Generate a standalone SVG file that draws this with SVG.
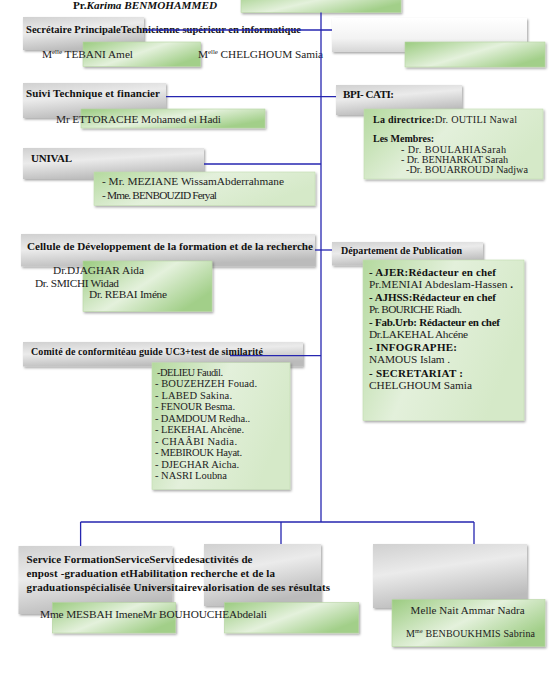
<svg xmlns="http://www.w3.org/2000/svg" width="554" height="674" viewBox="0 0 554 674">
<defs>
<linearGradient id="gGray" x1="0" y1="0" x2="0.35" y2="1">
<stop offset="0" stop-color="#d0d0d0"/><stop offset="0.45" stop-color="#ebebeb"/><stop offset="1" stop-color="#bbbbbb"/>
</linearGradient>
<linearGradient id="gWhite" x1="0" y1="0" x2="0" y2="1">
<stop offset="0" stop-color="#ffffff"/><stop offset="0.6" stop-color="#f3f3f3"/><stop offset="1" stop-color="#d6d6d6"/>
</linearGradient>
<linearGradient id="gGreen" x1="0" y1="0" x2="1" y2="0.6">
<stop offset="0" stop-color="#9bcb80"/><stop offset="0.55" stop-color="#e4f1dc"/><stop offset="1" stop-color="#a2cf89"/>
</linearGradient>
<linearGradient id="gLight" x1="0" y1="0" x2="1" y2="0.4">
<stop offset="0" stop-color="#b4d99e"/><stop offset="0.5" stop-color="#e3f0db"/><stop offset="1" stop-color="#d5e9c8"/>
</linearGradient>
<filter id="sh" x="-10%" y="-10%" width="125%" height="140%">
<feDropShadow dx="1.2" dy="1.5" stdDeviation="0.9" flood-color="#000" flood-opacity="0.35"/>
</filter>
</defs>
<style>
.gray{fill:url(#gGray);filter:url(#sh)}
.white{fill:url(#gWhite);filter:url(#sh)}
.green{fill:url(#gGreen);stroke:#b7d6a3;stroke-width:0.6;filter:url(#sh)}
.light{fill:url(#gLight);stroke:#c2dcb1;stroke-width:0.6;filter:url(#sh)}
text{font-family:"Liberation Serif","Times New Roman",serif;font-size:11.3px;fill:#222}
.b{font-weight:bold;font-size:11px;fill:#111}
.t{font-size:10px}
.s{font-size:10.5px}
.m{font-size:10.2px}
.sup{font-size:7px}
.con{stroke:#2626b0;stroke-width:1.3;fill:none}
</style>
<rect width="554" height="674" fill="#ffffff"/>

<g id="director">
<rect class="green" x="241" y="-10" width="160" height="22.5"/>
<text class="b" style="font-size:10.5px" x="73" y="9" textLength="144" lengthAdjust="spacingAndGlyphs">Pr.<tspan font-style="italic">Karima BENMOHAMMED</tspan></text>
</g>

<g id="secretaire">
<rect class="gray" x="23" y="17" width="121" height="33"/>
<rect class="green" x="83" y="42" width="117.5" height="24.5"/>
<text class="b" x="26" y="32.5" textLength="275" lengthAdjust="spacingAndGlyphs">Secrétaire PrincipaleTechnicienne supérieur en informatique</text>
<text x="42" y="58" textLength="91" lengthAdjust="spacing">M<tspan class="sup" dy="-4">elle</tspan><tspan dy="4"> TEBANI Amel</tspan></text>
<text x="198" y="58" textLength="125" lengthAdjust="spacing">M<tspan class="sup" dy="-4">elle</tspan><tspan dy="4"> CHELGHOUM Samia</tspan></text>
</g>

<g id="top-right">
<rect class="white" x="332" y="18" width="195" height="34"/>
<rect class="green" x="405" y="42" width="140" height="25"/>
</g>

<g id="suivi">
<rect class="gray" x="23" y="83" width="143" height="35"/>
<rect class="green" x="81" y="109" width="184" height="19"/>
<text class="b" x="26" y="97" textLength="134" lengthAdjust="spacing">Suivi Technique et financier</text>
<text x="56" y="122.7" textLength="165" lengthAdjust="spacing">Mr ETTORACHE Mohamed el Hadi</text>
</g>

<g id="bpi-cati">
<rect class="gray" x="336" y="85" width="126" height="30"/>
<rect class="light" x="364" y="109" width="179" height="70"/>
<text class="b" x="343" y="97.7" textLength="51" lengthAdjust="spacing">BPI- CATI:</text>
<text class="m" x="373" y="123" textLength="144" lengthAdjust="spacing"><tspan class="b" style="font-size:10px">La directrice:</tspan>Dr. OUTILI Nawal</text>
<text class="b" style="font-size:10px" x="373" y="142">Les Membres:</text>
<text class="m" x="401" y="153.3" textLength="105" lengthAdjust="spacing">- Dr. BOULAHIASarah</text>
<text class="m" x="401" y="163.3" textLength="107" lengthAdjust="spacing">- Dr. BENHARKAT Sarah</text>
<text class="m" x="406" y="173.3" textLength="122" lengthAdjust="spacing">-Dr. BOUARROUDJ Nadjwa</text>
</g>

<g id="unival">
<rect class="gray" x="23" y="148" width="181" height="31"/>
<rect class="light" x="94" y="172" width="221" height="33.5"/>
<text class="b" x="31" y="161.7" textLength="41" lengthAdjust="spacing">UNIVAL</text>
<text x="102" y="185" textLength="182" lengthAdjust="spacing">- Mr. MEZIANE WissamAbderrahmane</text>
<text x="102" y="199.3" textLength="115" lengthAdjust="spacing">- Mme. BENBOUZID Feryal</text>
</g>

<g id="cellule">
<rect class="gray" x="21" y="234" width="294" height="32.5"/>
<rect class="green" x="83" y="261" width="129" height="50.5"/>
<text class="b" x="27" y="250" textLength="286" lengthAdjust="spacingAndGlyphs">Cellule de Développement de la formation et de la recherche</text>
<text x="53" y="274.3" textLength="91" lengthAdjust="spacing">Dr.DJAGHAR Aida</text>
<text x="35" y="286.7" textLength="84" lengthAdjust="spacing">Dr. SMICHI Widad</text>
<text x="89" y="298.3" textLength="78" lengthAdjust="spacing">Dr. REBAI Iméne</text>
</g>

<g id="publication">
<rect class="gray" x="332" y="242" width="151" height="23.5"/>
<rect class="light" x="363" y="260" width="161" height="160.5"/>
<text class="b t" x="341" y="254" textLength="121" lengthAdjust="spacing">Département de Publication</text>
<text class="b" x="369" y="275.7" textLength="127" lengthAdjust="spacing">- AJER:Rédacteur en chef</text>
<text x="369" y="288.3" textLength="144" lengthAdjust="spacing">Pr.MENIAI Abdeslam-Hassen <tspan class="b">.</tspan></text>
<text class="b" x="369" y="300.7" textLength="127" lengthAdjust="spacing">- AJHSS:Rédacteur en chef</text>
<text x="369" y="313.3" textLength="93" lengthAdjust="spacing">Pr. BOURICHE  Riadh.</text>
<text class="b" x="369" y="325.7" textLength="131" lengthAdjust="spacing">- Fab.Urb: Rédacteur en chef</text>
<text x="369" y="338.3" textLength="99" lengthAdjust="spacing">Dr.LAKEHAL Ahcéne</text>
<text class="b" x="369" y="351" textLength="88" lengthAdjust="spacing">- INFOGRAPHE:</text>
<text x="369" y="363.3" textLength="81" lengthAdjust="spacing">NAMOUS Islam .</text>
<text class="b" x="369" y="376.7" textLength="94" lengthAdjust="spacing">- SECRETARIAT :</text>
<text x="369" y="389.3" textLength="103" lengthAdjust="spacing">CHELGHOUM Samia</text>
</g>

<g id="comite">
<rect class="gray" x="23" y="342" width="280" height="24.5"/>
<rect class="light" x="152" y="362.7" width="138" height="126.6"/>
<text class="b t" x="31" y="355" textLength="232" lengthAdjust="spacing">Comité de conformitéau guide UC3+test de similarité</text>
<text class="s" x="157" y="375.7" textLength="66" lengthAdjust="spacing">-DELIEU Faudil.</text>
<text class="s" x="155" y="387.2" textLength="102" lengthAdjust="spacing">- BOUZEHZEH Fouad.</text>
<text class="s" x="155" y="398.7" textLength="77" lengthAdjust="spacing">- LABED Sakina.</text>
<text class="s" x="155" y="410.2" textLength="80" lengthAdjust="spacing">- FENOUR Besma.</text>
<text class="s" x="155" y="421.7" textLength="95" lengthAdjust="spacing">- DAMDOUM Redha..</text>
<text class="s" x="155" y="433.2" textLength="89" lengthAdjust="spacing">- LEKEHAL Ahcène.</text>
<text class="s" x="155" y="444.7" textLength="82" lengthAdjust="spacing">- CHAÂBI Nadia.</text>
<text class="s" x="155" y="456.2" textLength="87" lengthAdjust="spacing">- MEBIROUK Hayat.</text>
<text class="s" x="155" y="467.7" textLength="84" lengthAdjust="spacing">- DJEGHAR Aicha.</text>
<text class="s" x="155" y="479.2" textLength="72" lengthAdjust="spacing">- NASRI Loubna</text>
</g>

<g id="service-formation">
<rect class="gray" x="18.5" y="546" width="154" height="68"/>
<rect class="green" x="52.3" y="602.5" width="123.3" height="30.5"/>
</g>

<g id="service-activites">
<rect class="gray" x="204" y="544" width="117" height="62"/>
<rect class="green" x="224.4" y="602.5" width="134.3" height="30.5"/>
</g>

<g id="bottom-right">
<rect class="gray" x="373" y="544" width="154" height="64"/>
<rect class="green" x="392" y="599.6" width="153" height="47"/>
<text style="font-size:11px" x="410.6" y="614" textLength="114" lengthAdjust="spacing">Melle Nait Ammar Nadra</text>
<text style="font-size:10px" x="406" y="636.7" textLength="129" lengthAdjust="spacing">M<tspan style="font-size:6px" dy="-3.5">me</tspan><tspan dy="3.5"> BENBOUKHMIS Sabrina</tspan></text>
</g>

<g id="bottom-texts">
<text class="b" x="26.5" y="563" textLength="226" lengthAdjust="spacing">Service FormationServiceServicedesactivités de</text>
<text class="b" x="26.5" y="577" textLength="248.5" lengthAdjust="spacing">enpost -graduation etHabilitation  recherche et de la</text>
<text class="b" x="26.5" y="591" textLength="303.5" lengthAdjust="spacing">graduationspécialisée  Universitairevalorisation  de ses résultats</text>
<text x="40" y="617.7" textLength="227" lengthAdjust="spacing">Mme MESBAH ImeneMr BOUHOUCHEAbdelali</text>
</g>

<g id="connectors">
<path class="con" d="M321 12.5 V522"/>
<path class="con" d="M144 30 H332"/>
<path class="con" d="M166 96.7 H336"/>
<path class="con" d="M204 164 H321"/>
<path class="con" d="M315 250 H332"/>
<path class="con" d="M230 355.7 H321"/>
<path class="con" d="M80.6 522 H474 M80.6 522 V546 M281 522 V544 M474 522 V544"/>
</g>
</svg>
